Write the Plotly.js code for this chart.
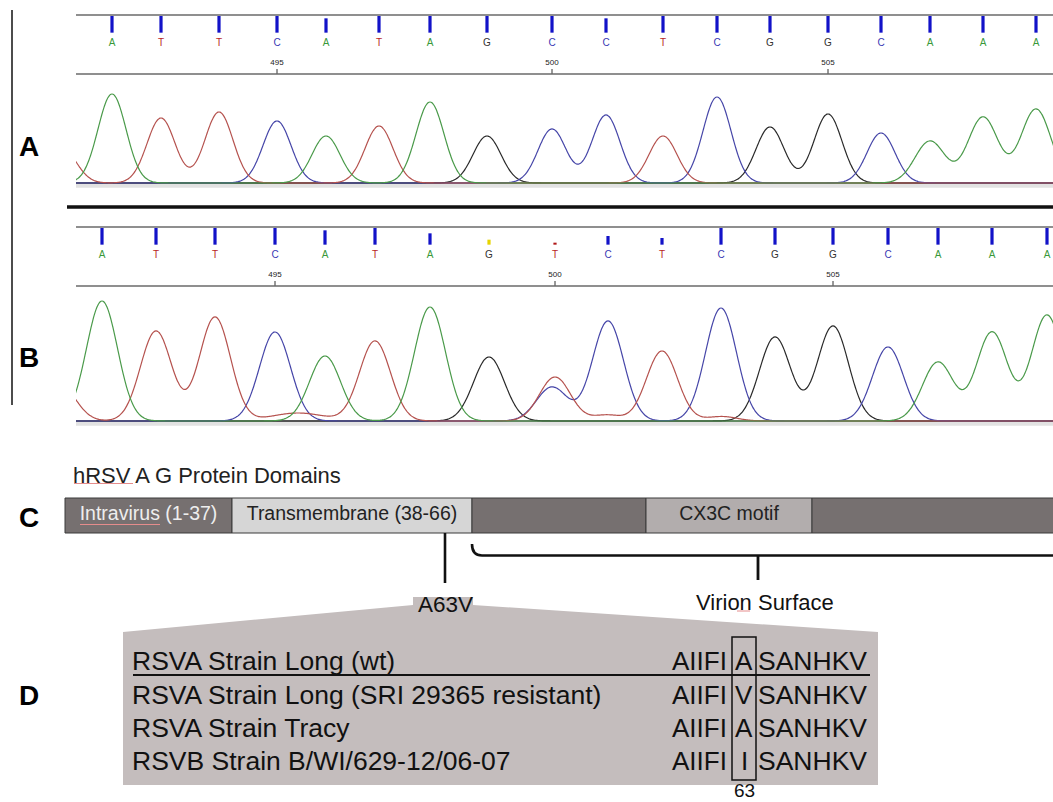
<!DOCTYPE html>
<html><head><meta charset="utf-8">
<script src="https://cdn.plot.ly/plotly-3.0.1.min.js"></script>
<style>html,body{margin:0;padding:0;background:#fff}#chart{width:1053px;height:802px}</style>
</head><body><div id="chart"></div>
<script>
// ================= DATA =================
// Panel A chromatogram (wild type)
const seqA   = ['A','T','T','C','A','T','A','G','C','C','T','C','G','G','C','A','A','A'];
const scanA  = [36,85,143,201,250,303,354,411,476,530,587,641,694,752,805,854,907,960];
const qualA  = [50,50,50,50,43,50,50,50,50,43,50,50,50,50,50,50,50,50];
const peakA  = [890,650,710,620,470,570,810,470,540,680,470,860,560,690,500,420,660,740];
const sigmaA = [14,14,14,14,14,14,14,14,14,14,14,14,14,14,14,15,15,15];
const extraChA = ['T'];
const extraScanA = [-14];
const extraPeakA = [350];
const extraSigmaA = [14];

// Panel B chromatogram (resistant)
const seqB   = ['A','T','T','C','A','T','A','G','T','C','T','C','G','G','C','A','A','A'];
const scanB  = [26,80,139,199,249,299,354,413,479,532,586,645,699,757,812,862,916,971];
const qualB  = [50,50,50,50,43,50,34,15,6,26,20,50,50,50,50,50,50,50];
const peakB  = [1200,900,1040,890,650,800,1140,640,440,1000,700,1130,840,950,740,590,890,1060];
const sigmaB = [15.5,15.5,15.5,15.5,15.5,15.5,15.5,15.5,15.5,15.5,15.5,15.5,15.5,15.5,15.5,15.5,15.5,15.5];
const extraChB = ['T','C','T','T','T'];
const extraScanB = [-16,476,222,531,646];
const extraPeakB = [360,340,80,60,45];
const extraSigmaB = [15.5,15.5,26,14,15];

const firstPosition = 492;   // sequence position of first called base

// Panel C: G protein domains (schematic lengths)
const domainNames = ['Intravirus (1-37)','Transmembrane (38-66)','','CX3C motif',''];
const domainLen   = [167,240,174,166,260];

// Panel D: alignment
const strainNames = ['RSVA Strain Long (wt)','RSVA Strain Long (SRI 29365 resistant)','RSVA Strain Tracy','RSVB Strain B/WI/629-12/06-07'];
const seqLeft  = ['AIIFI','AIIFI','AIIFI','AIIFI'];
const res63    = ['A','V','A','I'];
const seqRight = ['SANHKV','SANHKV','SANHKV','SANHKV'];
const mutationLabel = 'A63V';
const residueNumber = '63';

// ================= STYLE / LAYOUT =================
const W = 1053, H = 802;
const P = x => x / W, Q = y => 1 - y / H;
const FONT = 'Liberation Sans, Arial, Helvetica, sans-serif';
const traceColor = {A:'#4a9a4a', C:'#4646a8', G:'#2a2a2a', T:'#b5524e'};
const letterColor = {A:'#3a983a', C:'#3838b4', G:'#333333', T:'#b82424'};
const qColor = q => q >= 20 ? '#1212c8' : (q >= 15 ? '#e6d400' : '#b01818');

const xs = [];
for (let x = -40; x <= 1000; x += 1) xs.push(x);

function channel(seq, scan, heights, sig, eCh, eScan, eH, eSig, ch) {
  const c = [], h = [], s = [];
  seq.forEach((b, i) => { if (b === ch) { c.push(scan[i]); h.push(heights[i]); s.push(sig[i]); } });
  eCh.forEach((b, i) => { if (b === ch) { c.push(eScan[i]); h.push(eH[i]); s.push(eSig[i]); } });
  return xs.map(x => c.reduce((a, ci, k) => a + h[k] * Math.exp(-((x - ci) ** 2) / (2 * s[k] * s[k])), 0));
}

const data = [];
const panels = [
  {seq:seqA, scan:scanA, qual:qualA, peak:peakA, sig:sigmaA, eCh:extraChA, eScan:extraScanA, eH:extraPeakA, eSig:extraSigmaA, xa:'x', yh:'y', yt:'y2'},
  {seq:seqB, scan:scanB, qual:qualB, peak:peakB, sig:sigmaB, eCh:extraChB, eScan:extraScanB, eH:extraPeakB, eSig:extraSigmaB, xa:'x2', yh:'y3', yt:'y4'}
];
const LETTER_Q = -31, LABEL_Q = -91, TICK_Q0 = -109, TICK_Q1 = -124;

panels.forEach(p => {
  data.push({type:'bar', x:p.scan, y:p.qual, width:3.2, xaxis:p.xa, yaxis:p.yh,
    marker:{color:p.qual.map(qColor), line:{width:0}}, hoverinfo:'skip'});
  data.push({type:'scatter', mode:'text', x:p.scan, y:p.scan.map(() => LETTER_Q), text:p.seq,
    textfont:{family:FONT, size:10, color:p.seq.map(b => letterColor[b])}, xaxis:p.xa, yaxis:p.yh, hoverinfo:'skip'});
  const lx = [], lt = [], tx = [], ty = [];
  p.seq.forEach((b, i) => {
    const pos = firstPosition + i;
    if (pos % 5 === 0) { lx.push(p.scan[i]); lt.push(String(pos)); tx.push(p.scan[i], p.scan[i], null); ty.push(TICK_Q0, TICK_Q1, null); }
  });
  data.push({type:'scatter', mode:'text', x:lx, y:lx.map(() => LABEL_Q), text:lt,
    textfont:{family:FONT, size:8, color:'#222'}, xaxis:p.xa, yaxis:p.yh, hoverinfo:'skip'});
  data.push({type:'scatter', mode:'lines', x:tx, y:ty, line:{color:'#333', width:1}, xaxis:p.xa, yaxis:p.yh, hoverinfo:'skip'});
  ['G','C','T','A'].forEach(ch => {
    data.push({type:'scatter', mode:'lines', x:xs,
      y:channel(p.seq, p.scan, p.peak, p.sig, p.eCh, p.eScan, p.eH, p.eSig, ch),
      line:{color:traceColor[ch], width:1.2, shape:'spline'}, xaxis:p.xa, yaxis:p.yt, hoverinfo:'skip'});
  });
});

// Panel C domain bar
const DOMAIN_X0 = 65, BAR_Y = 515.5, BAR_W = 35;
const domainStart = [];
domainLen.reduce((acc, l) => { domainStart.push(acc); return acc + l; }, DOMAIN_X0);
const domainFill = ['#767070','#d6d6d6','#767070','#b2adad','#767070'];
const domainText = ['#eeeeee','#222222','#222222','#222222','#222222'];
data.push({type:'bar', orientation:'h', y:domainLen.map(() => BAR_Y), x:domainLen, base:domainStart, width:BAR_W,
  marker:{color:domainFill, line:{color:'#3a3a3a', width:1}}, xaxis:'x3', yaxis:'y5', hoverinfo:'skip'});
data.push({type:'scatter', mode:'text', x:domainLen.map((l, i) => domainStart[i] + l / 2), y:domainLen.map(() => BAR_Y),
  text:domainNames, textfont:{family:FONT, size:19.5, color:domainText}, xaxis:'x3', yaxis:'y5', hoverinfo:'skip'});

// ---------- shapes ----------
const shapes = [
  {type:'line', xref:'paper', yref:'paper', x0:P(12), x1:P(12), y0:Q(10), y1:Q(405), line:{color:'#111', width:1.5}},
  {type:'line', xref:'paper', yref:'paper', x0:P(67), x1:1, y0:Q(207), y1:Q(207), line:{color:'#111', width:3.5}}
];
[['x','y','y2'],['x2','y3','y4']].forEach(([xa, yh, yt]) => {
  shapes.push({type:'line', xref:xa+' domain', yref:yh+' domain', x0:0, x1:1, y0:1, y1:1, line:{color:'#6a6a6a', width:1.5}});
  shapes.push({type:'line', xref:xa+' domain', yref:yh+' domain', x0:0, x1:1, y0:0, y1:0, line:{color:'#6a6a6a', width:1.5}});
  shapes.push({type:'rect', xref:xa+' domain', yref:yt, x0:0, x1:1, y0:-8, y1:-48, fillcolor:'#e2e2e2', line:{width:0}, layer:'below'});
  shapes.push({type:'line', xref:xa+' domain', yref:yt, x0:0, x1:1, y0:0, y1:0, line:{color:'#555', width:1.6}, layer:'below'});
});
const MUT_X = 445, BOX_L = 413, BOX_R = 473, CALL_L = 123, CALL_R = 878;
const grey = '#c4bdbd';
const S = (o) => Object.assign({xref:'x3', yref:'y5'}, o);
shapes.push(S({type:'path', path:`M ${CALL_L} 632 L ${BOX_L} 605 L ${BOX_L} 597 L ${BOX_R} 597 L ${BOX_R} 605 L ${CALL_R} 632 L ${CALL_R} 785 L ${CALL_L} 785 Z`,
  fillcolor:grey, line:{width:0}, layer:'below'}));
shapes.push(S({type:'line', x0:MUT_X, x1:MUT_X, y0:533, y1:583, line:{color:'#111', width:2.6}}));
const surfStart = domainStart[2];
shapes.push(S({type:'path', path:`M ${surfStart} 544 Q ${surfStart} 555.5 ${surfStart + 10} 555.5 L 1060 555.5`, line:{color:'#111', width:2.6}}));
shapes.push(S({type:'line', x0:758, x1:758, y0:555.5, y1:580, line:{color:'#111', width:2.8}}));
shapes.push(S({type:'line', x0:133, x1:870, y0:675, y1:675, line:{color:'#111', width:2}}));
shapes.push(S({type:'rect', x0:732, x1:756, y0:637, y1:780, line:{color:'#111', width:1.5}}));
shapes.push(S({type:'line', x0:74, x1:133, y0:483.5, y1:483.5, line:{color:'#e58c8c', width:1}}));
shapes.push(S({type:'line', x0:80, x1:160, y0:524.5, y1:524.5, line:{color:'#e58c8c', width:1}}));
shapes.push(S({type:'line', x0:737, x1:750, y0:611, y1:611, line:{color:'#e58c8c', width:1}}));

// ---------- annotations ----------
const ann = [];
[['A',147],['B',357],['C',517],['D',695]].forEach(([t, y]) => ann.push({xref:'paper', yref:'paper', x:P(29), y:Q(y),
  text:'<b>'+t+'</b>', showarrow:false, font:{family:FONT, size:28, color:'#000'}, xanchor:'center', yanchor:'middle'}));
const A3 = (o) => Object.assign({xref:'x3', yref:'y5', showarrow:false, yanchor:'middle', borderpad:0}, o);
ann.push(A3({x:72, y:475, text:'hRSV A G Protein Domains', xanchor:'left', font:{family:FONT, size:22, color:'#222'}}));
ann.push(A3({x:445, y:604, text:mutationLabel, xanchor:'center', font:{family:FONT, size:22.5, color:'#111'}}));
ann.push(A3({x:765, y:602, text:'Virion Surface', xanchor:'center', font:{family:FONT, size:22, color:'#111'}}));
const rowY = i => i === 0 ? 661 : 695 + (i - 1) * 33;
strainNames.forEach((s, i) => {
  ann.push(A3({x:131, y:rowY(i), text:s, xanchor:'left', font:{family:FONT, size:26.5, color:'#111'}}));
  ann.push(A3({x:728, y:rowY(i), text:seqLeft[i], xanchor:'right', font:{family:FONT, size:26, color:'#111'}}));
  ann.push(A3({x:744, y:rowY(i), text:res63[i], xanchor:'center', font:{family:FONT, size:26, color:'#111'}}));
  ann.push(A3({x:757, y:rowY(i), text:seqRight[i], xanchor:'left', font:{family:FONT, size:26.5, color:'#111'}}));
});
ann.push(A3({x:744, y:790, text:residueNumber, xanchor:'center', font:{family:FONT, size:19, color:'#111'}}));

// ---------- axes ----------
const hidden = {visible:false, showgrid:false, zeroline:false, fixedrange:true};
const scanRange = [0, 977];
const layout = {
  width:W, height:H, margin:{l:0, r:0, t:0, b:0}, paper_bgcolor:'#fff', plot_bgcolor:'rgba(0,0,0,0)',
  showlegend:false, barmode:'overlay', font:{family:FONT},
  xaxis: Object.assign({}, hidden, {domain:[P(76), 1], range:scanRange, anchor:'y'}),
  xaxis2:Object.assign({}, hidden, {domain:[P(76), 1], range:scanRange, anchor:'y3'}),
  xaxis3:Object.assign({}, hidden, {domain:[0, 1], range:[0, W], anchor:'y5'}),
  yaxis: Object.assign({}, hidden, {domain:[Q(74), Q(15)], range:[-124, 53], anchor:'x'}),
  yaxis2:Object.assign({}, hidden, {domain:[Q(192), Q(74)], range:[-90, 1090], anchor:'x'}),
  yaxis3:Object.assign({}, hidden, {domain:[Q(286), Q(227)], range:[-124, 53], anchor:'x2'}),
  yaxis4:Object.assign({}, hidden, {domain:[Q(430), Q(286)], range:[-90, 1350], anchor:'x2'}),
  yaxis5:Object.assign({}, hidden, {domain:[0, Q(440)], range:[H, 440], anchor:'x3'}),
  shapes:shapes, annotations:ann
};
Plotly.newPlot('chart', data, layout, {displayModeBar:false, staticPlot:true});
</script></body></html>
